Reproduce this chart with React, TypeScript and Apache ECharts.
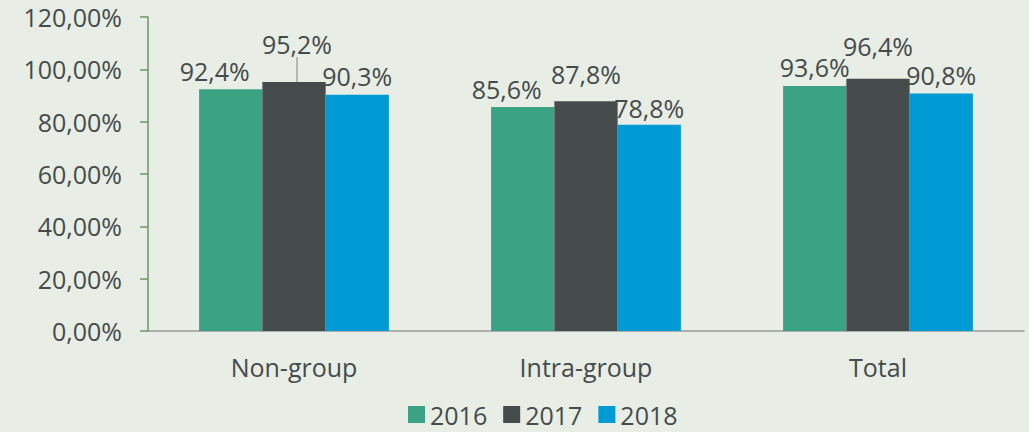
import React, { useEffect, useRef } from "react";
import * as echarts from "echarts";

const categories = ["Non-group", "Intra-group", "Total"];
const years = ["2016", "2017", "2018"];
const values2016 = [92.4, 85.6, 93.6];
const values2017 = [95.2, 87.8, 96.4];
const values2018 = [90.3, 78.8, 90.8];
const yTicks = [0, 20, 40, 60, 80, 100, 120];

const colors = ["#3BA283", "#464C4C", "#009BD5"];
const textColor = "#454B4B";
const font = "'Open Sans', 'Noto Sans', sans-serif";

// label nudges (style only): [dx, dy] per series, per category
const labelShifts: number[][][] = [
  [[-16, -1], [-16, -1], [0, -2]],
  [[3, -20], [0, -10], [0, -15]],
  [[0, -1], [0, 1], [0, -1]],
];

const fmt = (v: number) => v.toFixed(1).replace(".", ",") + "%";

export default function App() {
  const ref = useRef<HTMLDivElement>(null);
  useEffect(() => {
    const chart = echarts.init(ref.current!, null, { renderer: "svg" });
    const all = [values2016, values2017, values2018];
    chart.setOption({
      animation: false,
      backgroundColor: "#E8EDE6",
      grid: { left: 148, right: 5, top: 17, bottom: 101 },
      legend: {
        bottom: 0,
        left: 403,
        itemWidth: 17,
        itemHeight: 17,
        itemGap: 16,
        icon: "rect",
        textStyle: { fontSize: 25, color: textColor, fontFamily: font },
        data: years,
      },
      xAxis: {
        type: "category",
        data: categories,
        axisLine: { show: true, lineStyle: { color: "#9A9A9A", width: 1.5 } },
        axisTick: { show: false },
        axisLabel: { fontSize: 25, color: textColor, fontFamily: font, margin: 23 },
      },
      yAxis: {
        type: "value",
        min: 0,
        max: 120,
        interval: 20,
        axisLine: { show: true, lineStyle: { color: "#6E9462", width: 1.5 } },
        axisTick: { show: true, length: 8, lineStyle: { color: "#6E9462", width: 1.5 } },
        splitLine: { show: false },
        axisLabel: {
          fontSize: 25,
          color: textColor,
          fontFamily: font,
          margin: 26,
          formatter: (v: number) => (yTicks.includes(v) ? v.toFixed(2).replace(".", ",") + "%" : ""),
        },
      },
      series: years.map((y, si) => ({
        name: y,
        type: "bar",
        barGap: "0%",
        barCategoryGap: "35%",
        itemStyle: { color: colors[si] },
        labelLayout: (p: any) => ({ dx: labelShifts[si][p.dataIndex][0], dy: labelShifts[si][p.dataIndex][1] }),
        data: all[si].map((v, ci) => ({
          value: v,
          labelLine:
            si === 1 && ci === 0
              ? { show: true, lineStyle: { color: "#A5A5A5", width: 1.5 } }
              : { show: false },
          label: {
            show: true,
            position: "top",
            formatter: () => fmt(v),
            fontSize: 25,
            color: textColor,
            fontFamily: font,
          },
        })),
      })),
    });
    return () => chart.dispose();
  }, []);
  return <div ref={ref} style={{ width: 1029, height: 432, position: "absolute", left: 0, top: 0 }} />;
}
